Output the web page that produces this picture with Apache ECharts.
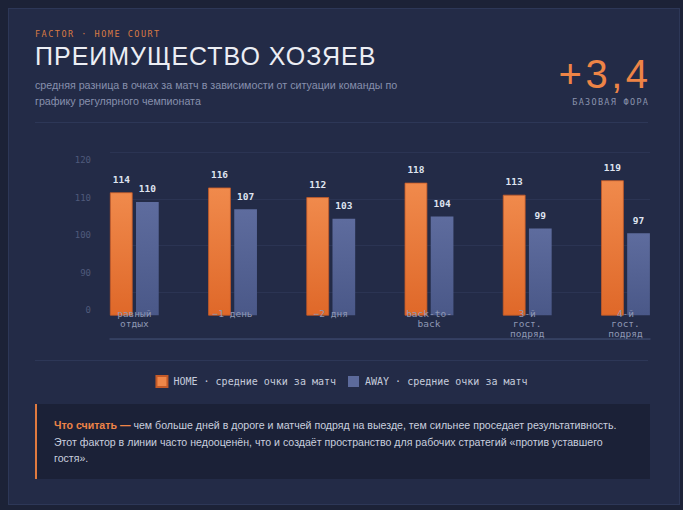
<!DOCTYPE html>
<html><head><meta charset="utf-8">
<script src="https://cdn.jsdelivr.net/npm/echarts@6/dist/echarts.min.js"></script>
<style>
html,body{margin:0;padding:0;width:683px;height:510px;overflow:hidden;background:#1c2237;}
#card{position:absolute;left:8px;top:8px;width:670px;height:495px;background:#232b47;border:1px solid #2d3757;}
.abs{position:absolute;white-space:nowrap;}
#kicker{left:35px;top:29px;font:8.5px/10px "DejaVu Sans Mono",monospace;letter-spacing:1.5px;color:#d97a44;}
#title{left:35px;top:44px;font:300 25px/25px "Liberation Sans",Arial,sans-serif;letter-spacing:1px;color:#eceef4;}
#sub{left:35px;top:77px;font:10.7px/16px "Liberation Sans",Arial,sans-serif;color:#8790ad;}
#big{right:35px;top:54px;font:300 40px/40px "Liberation Sans",Arial,sans-serif;color:#ee8446;letter-spacing:3.5px;margin-right:-3.5px;}
#bigcap{right:35px;top:97px;font:8.5px/10px "DejaVu Sans Mono",monospace;letter-spacing:1.3px;margin-right:-1.3px;color:#8a93ad;}
.sep{position:absolute;left:35px;width:613px;height:1px;background:#2d3757;}
#note{position:absolute;left:35px;top:404px;width:613px;height:75px;background:#1b2137;border-left:2px solid #e07a3f;}
#notetxt{position:absolute;left:17px;top:13px;font:10.6px/16.7px "Liberation Sans",Arial,sans-serif;color:#c9cfdf;white-space:nowrap;}
#notetxt b{color:#ee8447;}
#chart{position:absolute;left:0;top:0;width:683px;height:510px;}
</style></head>
<body>
<div id="card"></div>
<div class="abs" id="kicker">FACTOR · HOME COURT</div>
<div class="abs" id="title">ПРЕИМУЩЕСТВО ХОЗЯЕВ</div>
<div class="abs" id="sub">средняя разница в очках за матч в зависимости от ситуации команды по<br>графику регулярного чемпионата</div>
<div class="abs" id="big">+3,4</div>
<div class="abs" id="bigcap">БАЗОВАЯ ФОРА</div>
<div class="sep" style="top:122px"></div>
<div class="sep" style="top:360px"></div>
<div id="note"><div id="notetxt"><b>Что считать —</b> чем больше дней в дороге и матчей подряд на выезде, тем сильнее проседает результативность.<br>Этот фактор в линии часто недооценён, что и создаёт пространство для рабочих стратегий «против уставшего<br>гостя».</div></div>
<div id="chart"></div>
<script>
const categories = ['равный\nотдых', '−1 день', '−2 дня', 'back-to-\nback', '3-й\nгост.\nподряд', '4-й\nгост.\nподряд'];
const homeValues = [114, 116, 112, 118, 113, 119];
const awayValues = [110, 107, 103, 104, 99, 97];
const yTickLabels = ['0', '90', '100', '110', '120'];
const homeName = 'HOME · средние очки за матч';
const awayName = 'AWAY · средние очки за матч';

const mono = '"DejaVu Sans Mono", monospace';
const chart = echarts.init(document.getElementById('chart'), null, {renderer: 'svg'});
chart.setOption({
  backgroundColor: 'transparent',
  animation: false,
  legend: {
    top: 375, left: 'center', padding: 0,
    itemWidth: 11, itemHeight: 11, itemGap: 12, icon: 'rect',
    textStyle: {color: '#c6cbdc', fontFamily: mono, fontSize: 10, padding: [0, 0, 0, 1]},
    data: [
      {name: homeName, itemStyle: {color: '#ef8749'}},
      {name: awayName, itemStyle: {color: '#5c6a9b'}}
    ]
  },
  grid: [
    {left: 110, right: 33, top: 152, height: 187},
    {left: 92, width: 1, top: 160, height: 150},
    {left: 85.2, right: 8.4, top: 153.8, height: 161.4}
  ],
  xAxis: [
    {gridIndex: 0, type: 'value', min: 0, max: 1, axisLabel: {show: false}, axisTick: {show: false},
     splitLine: {show: false}, axisLine: {show: true, lineStyle: {color: '#3a4568', width: 1.5}}},
    {gridIndex: 1, type: 'value', show: false},
    {gridIndex: 2, type: 'category', data: categories, z: 10,
     axisLine: {show: false}, axisTick: {show: false},
     axisLabel: {interval: 0, margin: -6.7, color: '#8e97b3', fontFamily: mono, fontSize: 9.5, lineHeight: 10}}
  ],
  yAxis: [
    {gridIndex: 0, type: 'value', min: 0, max: 4, interval: 1, axisLabel: {show: false},
     axisLine: {show: false}, axisTick: {show: false},
     splitLine: {show: true, lineStyle: {color: '#2b3453', width: 1}}},
    {gridIndex: 1, type: 'category', data: yTickLabels, boundaryGap: false,
     axisLine: {show: false}, axisTick: {show: false}, splitLine: {show: false},
     axisLabel: {interval: 0, margin: 1, color: '#4f5a7b', fontFamily: mono, fontSize: 9}},
    {gridIndex: 2, type: 'value', min: 63, max: 130, show: false}
  ],
  series: [
    {name: homeName, type: 'bar', xAxisIndex: 2, yAxisIndex: 2, data: homeValues,
     barWidth: 22.7, barGap: '15%',
     itemStyle: {
       color: new echarts.graphic.LinearGradient(0, 0, 0, 1, [{offset: 0, color: '#f08a4c'}, {offset: 1, color: '#df6829'}]),
       borderColor: '#c45a28', borderWidth: 0.8
     },
     label: {show: true, position: 'top', distance: 8, color: '#dfe4f0', fontFamily: mono, fontSize: 9.5, fontWeight: 'bold'}},
    {name: awayName, type: 'bar', xAxisIndex: 2, yAxisIndex: 2, data: awayValues,
     barWidth: 22.7, barGap: '15%',
     itemStyle: {
       color: new echarts.graphic.LinearGradient(0, 0, 0, 1, [{offset: 0, color: '#5e6c9e'}, {offset: 1, color: '#4a5888'}])
     },
     label: {show: true, position: 'top', distance: 8, color: '#dfe4f0', fontFamily: mono, fontSize: 9.5, fontWeight: 'bold'}}
  ]
});
</script>
</body></html>
